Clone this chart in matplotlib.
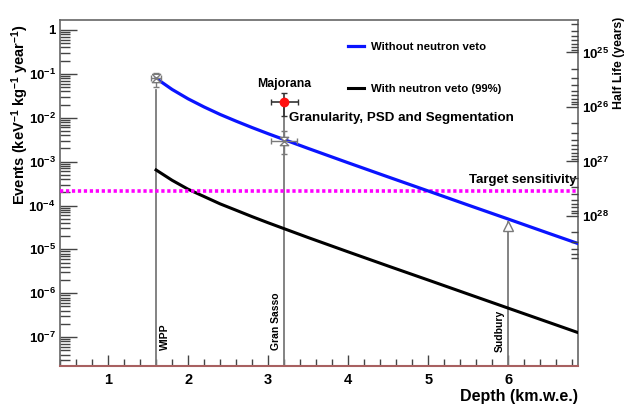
import numpy as np
import matplotlib
matplotlib.use("Agg")
import matplotlib.pyplot as plt
from matplotlib.ticker import FixedLocator, MultipleLocator, FuncFormatter, NullFormatter

plt.rcParams['font.family'] = ['Liberation Sans', 'DejaVu Sans']
plt.rcParams['font.weight'] = 'bold'
plt.rcParams['mathtext.fontset'] = 'custom'
plt.rcParams['mathtext.rm'] = 'Liberation Sans:bold'
plt.rcParams['mathtext.it'] = 'Liberation Sans:bold'
plt.rcParams['mathtext.bf'] = 'Liberation Sans:bold'

# depth (km.w.e.) and background rate (events / keV / kg / year)
depth = [1.6, 1.8, 2.0, 2.2, 2.4, 2.6, 2.8, 3.0, 3.5, 4.0, 4.5, 5.0, 5.5, 6.0, 6.5, 6.87]
no_veto = [0.0794, 0.0442, 0.0270, 0.0176, 0.0119, 8.36e-3, 5.97e-3, 4.33e-3,
           2.0e-3, 9.4e-4, 4.47e-4, 2.14e-4, 1.02e-4, 4.9e-5, 2.34e-5, 1.36e-5]
with_veto = [6.46e-4, 3.76e-4, 2.35e-4, 1.60e-4, 1.09e-4, 7.8e-5, 5.57e-5, 4.04e-5,
             1.86e-5, 8.77e-6, 4.17e-6, 2.0e-6, 9.55e-7, 4.57e-7, 2.19e-7, 1.27e-7]
target = 2.1e-4

# underground sites
sites = ['WIPP', 'Gran Sasso', 'Sudbury']
site_depth = [1.6, 3.2, 6.0]
site_top = [0.042, 0.024, 4.2e-5]

# measured points with errors (WIPP, Gran Sasso)
meas_x = [1.6, 3.2]
meas_y = [0.079, 3.0e-3]
meas_xerr = [0.06, 0.16]
meas_ylo = [0.05, 1.5e-3]
meas_yhi = [0.105, 5.1e-3]
sud_x = 6.0
sud_y = 3.4e-5

# Majorana point
maj_x, maj_y = 3.2, 0.0234
maj_xerr = 0.17
maj_ylo, maj_yhi = 0.011, 0.036

xlim = (0.4, 6.87)
ylim = (2.2e-8, 1.69)
# half-life axis relation: log10(T) = a - b*log10(E)
hl_a, hl_b = 24.587, 0.8055

fig = plt.figure(figsize=(6.34, 4.07), dpi=100)
ax = fig.add_axes([60/634, 1-366/407, 518/634, 346/407])
ax.set_yscale('log')
ax.set_xlim(*xlim)
ax.set_ylim(*ylim)

gray = '#7a7a7a'
for x, top in zip(site_depth, site_top):
    ax.plot([x, x], [ylim[0], top], color=gray, lw=1.3, zorder=2)
ax.text(site_depth[0] + 0.05, 5e-8, sites[0], rotation=90, ha='left', va='bottom', fontsize=7.5)
ax.text(site_depth[1] - 0.04, 5e-8, sites[1], rotation=90, ha='right', va='bottom', fontsize=7.5)
ax.text(site_depth[2] - 0.04, 4.5e-8, sites[2], rotation=90, ha='right', va='bottom', fontsize=7.5)

black_line, = ax.plot(depth, with_veto, color='black', lw=2.2, zorder=3,
                      label='With neutron veto (99%)')
ax.axhline(target, color='#ff00ff', lw=2.6, ls=(0, (0.9, 0.75)), zorder=4)
blue_line, = ax.plot(depth, no_veto, color='#0a14ff', lw=2.3, zorder=5,
                     label='Without neutron veto')

yerr = [np.array(meas_y) - np.array(meas_ylo), np.array(meas_yhi) - np.array(meas_y)]
ax.errorbar(meas_x, meas_y, xerr=meas_xerr, yerr=yerr, fmt='none', ecolor=gray,
            elinewidth=1.0, capsize=2, zorder=6)
hourglass = [(-1, 1), (1, 1), (-1, -1), (1, -1), (-1, 1)]
ax.plot(meas_x, meas_y, ls='none', marker=hourglass, ms=6, mfc='white', mec=gray,
        mew=1.0, zorder=7)
ax.plot([sud_x], [sud_y], ls='none', marker='^', ms=7, mfc='white', mec=gray, mew=1.0, zorder=7)

ax.errorbar([maj_x], [maj_y], xerr=maj_xerr, yerr=[[maj_y - maj_ylo], [maj_yhi - maj_y]],
            fmt='none', ecolor='#333333', elinewidth=1.2, capsize=2, zorder=6)
ax.plot([maj_x], [maj_y], 'o', color='#ff1010', ms=6, zorder=8)

ax.text(maj_x, 0.042, 'Majorana', ha='center', va='bottom', fontsize=8.8)
ax.text(3.26, 0.0072, 'Granularity, PSD and Segmentation', ha='left', va='bottom', fontsize=9.6)
ax.text(6.85, 2.75e-4, 'Target sensitivity', ha='right', va='bottom', fontsize=9.5)

ax.legend(handles=[blue_line, black_line], loc='upper left',
          bbox_to_anchor=(0.556, 0.937), frameon=False, fontsize=8.2,
          handlelength=1.4, handletextpad=0.6, labelspacing=2.8,
          borderpad=0, borderaxespad=0)

# axes styling
frame = '#666666'
for s in ['left', 'top', 'right']:
    ax.spines[s].set_color(frame)
    ax.spines[s].set_linewidth(1.2)
ax.spines['bottom'].set_color('#a86060')
ax.spines['bottom'].set_linewidth(1.5)

ax.xaxis.set_major_locator(MultipleLocator(1))
ax.xaxis.set_minor_locator(MultipleLocator(0.2))
ax.tick_params(axis='x', which='both', direction='in', colors='#444444', labelcolor='black',
               labelsize=10.5, pad=5)
ax.tick_params(axis='x', which='major', length=8, width=1)
ax.tick_params(axis='x', which='minor', length=5, width=1)

decades = [10.0 ** k for k in range(-8, 1)]
ax.yaxis.set_major_locator(FixedLocator([d for d in decades if d >= 1e-7]))
ax.yaxis.set_minor_locator(FixedLocator([d * m for d in decades for m in range(2, 10)
                                         if ylim[0] <= d * m <= ylim[1]]))


def elabel(v, pos):
    k = int(round(np.log10(v)))
    return '1' if k == 0 else r'$10^{%d}$' % k


ax.yaxis.set_major_formatter(FuncFormatter(elabel))
ax.yaxis.set_minor_formatter(NullFormatter())
ax.tick_params(axis='y', which='both', direction='in', colors='#444444', labelcolor='black',
               labelsize=9.5, pad=3, right=False)
ax.tick_params(axis='y', which='major', length=12, width=1)
ax.tick_params(axis='y', which='minor', length=7, width=1)

# half-life axis on the right
ax2 = ax.twinx()
ax2.set_yscale('log')
t_top = 10 ** (hl_a - hl_b * np.log10(ylim[1]))
t_bot = 10 ** (hl_a - hl_b * np.log10(ylim[0]))
ax2.set_ylim(t_bot, t_top)
for s in ax2.spines.values():
    s.set_visible(False)
tdec = [10.0 ** k for k in range(24, 29)]
ax2.yaxis.set_major_locator(FixedLocator([d for d in tdec if d >= 1e25]))
ax2.yaxis.set_minor_locator(FixedLocator([d * m for d in tdec for m in range(2, 10)
                                          if t_top <= d * m <= 6.2e28]))
ax2.yaxis.set_major_formatter(FuncFormatter(lambda v, p: r'$10^{%d}$' % int(round(np.log10(v)))))
ax2.yaxis.set_minor_formatter(NullFormatter())
ax2.tick_params(axis='y', which='both', direction='in', colors='#444444', labelcolor='black',
                labelsize=9.5, pad=3)
ax2.tick_params(axis='y', which='major', length=9, width=1)
ax2.tick_params(axis='y', which='minor', length=5, width=1)

fig.text(20/634, 1-24/407, r'Events (keV$^{-1}$ kg$^{-1}$ year$^{-1}$)', rotation=90,
         ha='center', va='top', fontsize=10.5)
fig.text(619/634, 1-17/407, 'Half Life (years)', rotation=90, ha='center', va='top', fontsize=8.8)
fig.text(578/634, 1-396/407, 'Depth (km.w.e.)', ha='right', va='center', fontsize=11.5)

fig.savefig('out.png', dpi=100)
